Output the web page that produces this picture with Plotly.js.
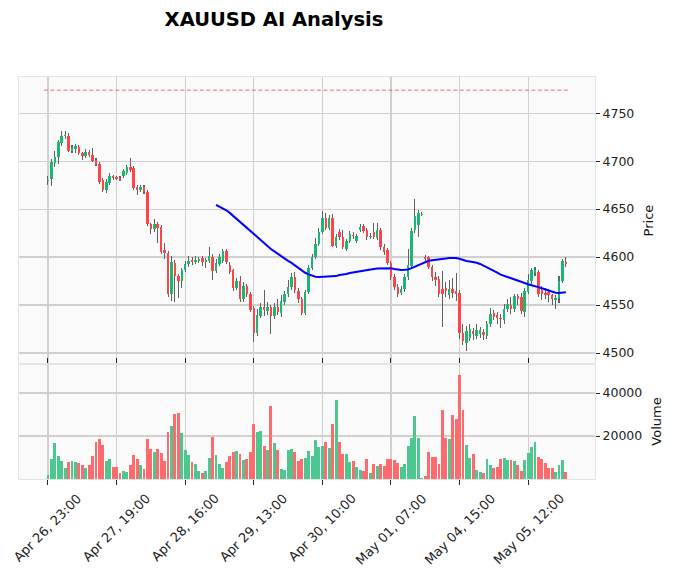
<!DOCTYPE html>
<html>
<head>
<meta charset="utf-8">
<script src="https://cdn.plot.ly/plotly-3.0.1.min.js"></script>
<style>html,body{margin:0;padding:0;background:#fff;}#chart{width:677px;height:579px;}</style>
</head>
<body>
<div id="chart"></div>
<script>
// ---- Data (hourly XAUUSD candles) ----
const opens = [4679,4681,4698,4704,4719,4726,4726,4711,4713,4715,4709,4705,4710,4706,4701,4697,4680,4670,4677,4684,
4683,4682,4684,4688,4694,4693,4673,4670,4673,4668,4634,4629,4634,4631,4607,4604,4562,4594,4580,4575,
4587,4593,4597,4595,4596,4599,4595,4596,4600,4585,4593,4596,4606,4592,4586,4568,4575,4556,4570,4562,
4547,4521,4539,4548,4544,4548,4539,4548,4542,4553,4561,4569,4579,4565,4556,4542,4564,4589,4600,4614,
4626,4641,4630,4641,4612,4626,4621,4608,4617,4623,4617,4628,4632,4628,4621,4626,4620,4628,4610,4607,
4594,4579,4569,4563,4567,4579,4591,4628,4633,4644,4600,4600,4590,4579,4577,4567,4568,4560,4567,4565,
4563,4521,4510,4516,4523,4518,4520,4522,4518,4530,4542,4540,4537,4534,4546,4550,4546,4559,4558,4543,
4564,4575,4583,4584,4566,4563,4564,4560,4555,4557,4575,4595];
const highs = [4684,4702,4711,4722,4731,4731,4729,4717,4718,4717,4710,4713,4712,4714,4703,4699,4682,4681,4688,4686,
4685,4684,4692,4696,4703,4695,4675,4675,4675,4670,4636,4640,4637,4633,4615,4606,4601,4597,4582,4589,
4596,4601,4600,4601,4600,4601,4599,4610,4603,4598,4603,4608,4608,4595,4588,4578,4580,4574,4572,4564,
4549,4546,4552,4566,4553,4550,4552,4556,4560,4565,4576,4583,4584,4568,4558,4566,4592,4603,4620,4630,
4648,4646,4644,4645,4624,4629,4628,4619,4627,4626,4624,4634,4634,4630,4625,4636,4636,4630,4614,4609,
4596,4582,4572,4570,4582,4608,4630,4661,4649,4647,4602,4601,4592,4584,4580,4585,4574,4576,4578,4583,
4566,4530,4528,4530,4526,4530,4527,4525,4533,4547,4545,4543,4541,4551,4556,4558,4562,4562,4563,4568,
4582,4589,4590,4587,4570,4568,4567,4562,4560,4580,4598,4600];
const lows = [4675,4674,4694,4697,4716,4723,4710,4708,4709,4706,4701,4703,4704,4699,4695,4676,4668,4667,4675,4680,
4680,4679,4682,4686,4689,4670,4665,4668,4666,4632,4624,4626,4615,4603,4598,4558,4554,4553,4557,4568,
4584,4590,4592,4593,4594,4591,4589,4594,4576,4583,4591,4594,4593,4582,4565,4566,4553,4553,4558,4543,
4511,4518,4536,4539,4540,4520,4535,4540,4538,4550,4558,4566,4563,4552,4540,4540,4562,4586,4598,4612,
4624,4628,4628,4610,4609,4618,4608,4606,4615,4619,4615,4626,4625,4618,4619,4619,4618,4607,4602,4592,
4576,4566,4558,4560,4564,4576,4588,4625,4621,4643,4596,4588,4575,4570,4558,4527,4558,4556,4557,4554,
4515,4508,4502,4512,4514,4515,4516,4514,4515,4527,4534,4530,4526,4530,4543,4541,4543,4550,4541,4538,
4561,4572,4580,4558,4555,4556,4553,4550,4546,4552,4573,4590];
const closes = [4680,4699,4704,4720,4726,4727,4711,4715,4716,4708,4705,4710,4706,4700,4697,4678,4670,4678,4684,4682,
4681,4680,4690,4694,4691,4672,4670,4673,4668,4634,4629,4634,4630,4605,4604,4562,4595,4580,4575,4587,
4593,4596,4595,4597,4598,4595,4597,4601,4585,4594,4600,4606,4595,4584,4568,4575,4556,4570,4562,4545,
4521,4540,4548,4545,4548,4539,4548,4543,4554,4561,4569,4579,4566,4556,4542,4564,4589,4600,4614,4626,
4641,4630,4641,4612,4621,4621,4611,4617,4624,4622,4622,4631,4627,4621,4622,4621,4628,4610,4605,4594,
4579,4569,4561,4567,4579,4592,4627,4643,4646,4645,4598,4590,4579,4576,4561,4562,4565,4567,4563,4561,
4521,4512,4523,4525,4520,4524,4524,4519,4530,4541,4538,4536,4535,4546,4551,4546,4559,4556,4544,4565,
4576,4586,4587,4561,4561,4560,4560,4556,4557,4575,4596,4593];
const volumes = [1860,9300,16740,10700,8370,5100,7900,8370,7900,7440,6500,5100,6500,10700,17200,18600,15800,8370,9300,5580,
5580,2800,3700,3250,6500,11200,9300,6500,4650,18600,14000,12560,14000,12100,8370,21850,24650,30200,30700,21400,
13500,11200,7900,7000,3700,2800,3700,9770,19500,11200,7000,5100,7900,10700,12560,13000,11600,8800,9300,12560,
25600,21850,22300,15350,13500,33950,16740,13500,4650,4200,13500,14000,12560,8370,9300,9770,13000,10700,18100,14800,
15350,17200,14400,25600,36700,17200,11600,11600,8060,8500,5430,4185,3720,9150,3000,7130,6045,6820,6200,9150,
9150,8680,7290,5580,7130,15350,18900,29300,18900,300,1400,12560,10200,10200,6975,32100,19000,18600,29800,27900,
48400,32085,15810,9765,11625,4185,3255,2790,9300,6510,5115,5580,9300,9765,8835,8835,8370,6510,3720,8835,
12090,14880,17205,10230,9300,7440,5115,5115,3255,6510,8835,3255];
const tickIndex = [0,20,40,60,80,100,120,140];
const tickLabels = ['Apr 26, 23:00','Apr 27, 19:00','Apr 28, 16:00','Apr 29, 13:00','Apr 30, 10:00','May 01, 07:00','May 04, 15:00','May 05, 12:00'];
const targetLevel = 4774;
const mavPeriod = 50;

// ---- Styling ----
const UP = 'rgb(25,183,111)', DOWN = 'rgb(254,68,70)';
const VUP = '#4dc790', VDOWN = '#fd6b6c';
const WICK = '#606060';
const FONT = 'DejaVu Sans, Liberation Sans, sans-serif';

const idx = closes.map((_, i) => i);
const isUp = closes.map((c, i) => c >= opens[i]);
const bodyBase = closes.map((c, i) => Math.min(c, opens[i]));
const bodyLen = closes.map((c, i) => Math.max(Math.abs(c - opens[i]), 0.9));
const wickLen = highs.map((h, i) => h - lows[i]);

const mav = closes.map((_, i) => {
  if (i < mavPeriod - 1) return null;
  let s = 0; for (let k = i - mavPeriod + 1; k <= i; k++) s += closes[k];
  return s / mavPeriod;
});

const traces = [
  {type:'bar', x: idx, y: wickLen, base: lows, width: 0.3, marker:{color: WICK}, xaxis:'x', yaxis:'y', hoverinfo:'skip'},
  {type:'bar', x: idx, y: bodyLen, base: bodyBase, width: 0.72, marker:{color: isUp.map(u => u ? UP : DOWN)}, xaxis:'x', yaxis:'y', hoverinfo:'skip'},
  {type:'scatter', mode:'lines', x: idx, y: mav, line:{color:'#0000ff', width:2}, xaxis:'x', yaxis:'y', hoverinfo:'skip', connectgaps:false},
  {type:'scatter', mode:'lines', x: [idx[0] - 1.2, idx[idx.length - 1] + 1.2], y: [targetLevel, targetLevel],
   line:{color:'rgba(240,60,60,0.75)', width:1, dash:'4px,2.5px'}, xaxis:'x', yaxis:'y', hoverinfo:'skip'},
  {type:'bar', x: idx, y: volumes, width: 0.85, marker:{color: isUp.map(u => u ? VUP : VDOWN)}, xaxis:'x', yaxis:'y2', hoverinfo:'skip'}
];

// rotated date labels, centred under each tick (matplotlib style)
const tickAnnotations = tickIndex.map((t, k) => ({
  x: t, xref: 'x', y: 0, yref: 'paper', yshift: -9,
  xanchor: 'center', yanchor: 'top', textangle: -45, showarrow: false,
  text: tickLabels[k], font: {family: FONT, size: 13, color: '#222'}
}));

const layout = {
  width: 677, height: 579,
  margin: {l: 19, r: 82, t: 77, b: 100, pad: 0},
  paper_bgcolor: '#ffffff', plot_bgcolor: '#fafafa',
  showlegend: false, hovermode: false, barmode: 'overlay', bargap: 0,
  font: {family: FONT, color: '#101010', size: 12.5},
  title: {text: '<b>XAUUSD AI Analysis</b>', x: 274/677, xref: 'container', xanchor: 'center',
          y: 1 - 19/579, yref: 'container', yanchor: 'middle',
          font: {family: FONT, size: 19.5, color: '#000000'}},
  annotations: tickAnnotations,
  xaxis: {range: [-8.45, 159.5], anchor: 'y2', tickmode: 'array', tickvals: tickIndex, ticktext: tickLabels,
          showticklabels: false, ticks: 'outside', ticklen: 5, tickcolor: '#222', tickwidth: 1,
          showgrid: true, gridcolor: '#d0d0d0', gridwidth: 1.2, zeroline: false,
          showline: true, linecolor: '#e4e4e4', mirror: 'all'},
  yaxis: {domain: [0.286, 1], range: [4488.5, 4787.7], side: 'right', tick0: 4500, dtick: 50, tickformat: 'd',
          ticks: 'outside', ticklen: 4, tickcolor: '#222', showgrid: true, gridcolor: '#d0d0d0', gridwidth: 1.2,
          zeroline: false, showline: true, linecolor: '#e4e4e4', mirror: true,
          tickfont: {family: FONT, size: 12.5, color: '#222'},
          title: {text: 'Price', font: {family: FONT, size: 13, color: '#101010'}, standoff: 10}},
  yaxis2: {domain: [0, 0.286], range: [0, 53500], side: 'right', tickvals: [20000, 40000], tickformat: 'd',
          ticks: 'outside', ticklen: 4, tickcolor: '#222', showgrid: true, gridcolor: '#d0d0d0', gridwidth: 1.2,
          zeroline: false, showline: true, linecolor: '#e4e4e4', mirror: true,
          tickfont: {family: FONT, size: 12.5, color: '#222'},
          title: {text: 'Volume', font: {family: FONT, size: 13, color: '#101010'}, standoff: 10}}
};

Plotly.newPlot('chart', traces, layout, {staticPlot: true, displayModeBar: false});
</script>
</body>
</html>
